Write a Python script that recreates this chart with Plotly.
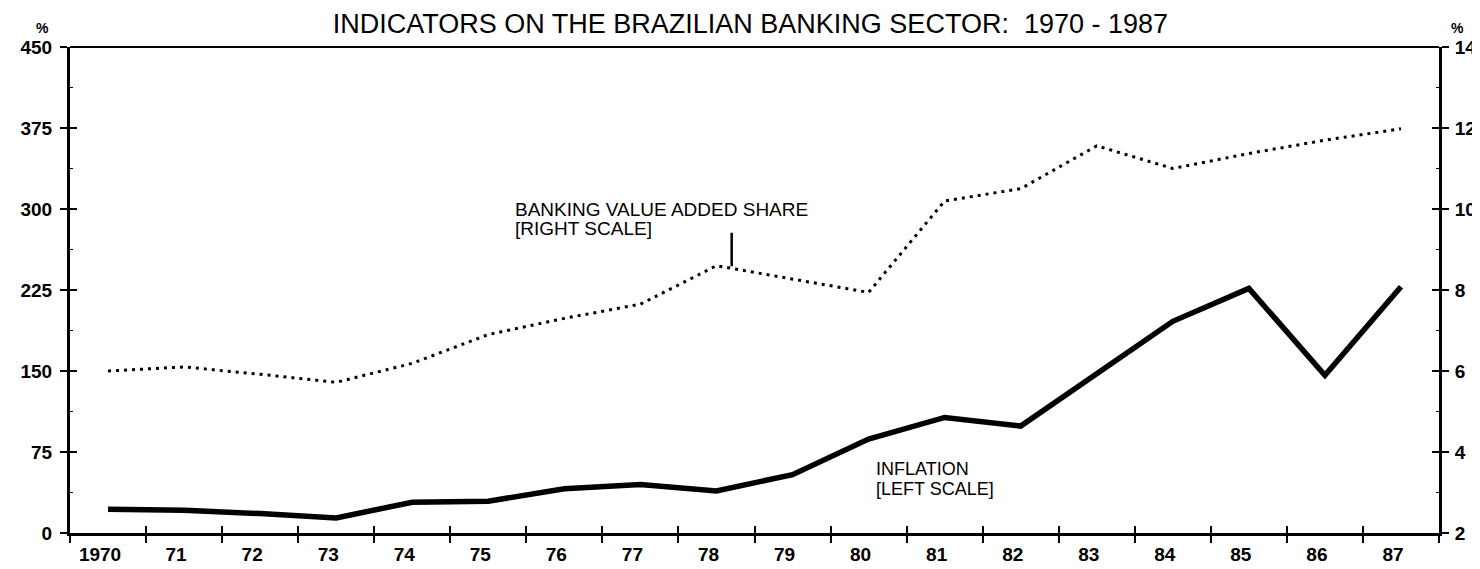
import plotly.graph_objects as go

# ---------------- data ----------------
years = [1970, 1971, 1972, 1973, 1974, 1975, 1976, 1977, 1978,
         1979, 1980, 1981, 1982, 1983, 1984, 1985, 1986, 1987]
year_labels = ["1970", "71", "72", "73", "74", "75", "76", "77", "78",
               "79", "80", "81", "82", "83", "84", "85", "86", "87"]
inflation = [22, 21, 18, 14, 28.5, 29.5, 41, 45, 39,
             54, 87, 107, 99, 147, 196, 226.5, 146, 228]          # left scale, %
banking_share = [6.0, 6.1, 5.92, 5.72, 6.19, 6.9, 7.3, 7.65, 8.6,
                 8.27, 7.94, 10.2, 10.5, 11.56, 11.0, 11.37, 11.7, 11.98]  # right scale, %
left_ticks = [0, 75, 150, 225, 300, 375, 450]
right_ticks = [2, 4, 6, 8, 10, 12, 14]
boundaries = [y + 0.5 for y in range(1969, 1988)]

FONT = "Liberation Sans"
XR = [1969.5, 1987.5]
YL = [0, 450]
YR = [2, 14]

fig = go.Figure()
fig.add_trace(go.Scatter(x=years, y=inflation, mode="lines",
                         line=dict(color="black", width=5.5),
                         xaxis="x", yaxis="y", showlegend=False, hoverinfo="skip"))
fig.add_trace(go.Scatter(x=years, y=banking_share, mode="lines",
                         line=dict(color="black", width=3, dash="3px,5px"),
                         xaxis="x", yaxis="y2", showlegend=False, hoverinfo="skip"))
# empty traces so the overlay tick axes are drawn
fig.add_trace(go.Scatter(x=[], y=[], xaxis="x2", yaxis="y3", showlegend=False))
fig.add_trace(go.Scatter(x=[], y=[], xaxis="x2", yaxis="y4", showlegend=False))

tickfont = dict(family=FONT, size=19, color="black", weight="bold")

fig.update_layout(
    width=1480, height=569,
    margin=dict(l=60, r=41, t=39, b=29),
    paper_bgcolor="white", plot_bgcolor="white",
    title=dict(text="INDICATORS ON THE BRAZILIAN BANKING SECTOR:  1970 - 1987",
               x=0.497, xref="paper", xanchor="center",
               y=0.972, yref="container", yanchor="middle",
               font=dict(family=FONT, size=27, color="black")),
    xaxis=dict(range=XR, tickmode="array", tickvals=years, ticktext=year_labels,
               ticks="", showline=True, linewidth=3, linecolor="black",
               showgrid=False, zeroline=False, tickfont=tickfont,
               ticklabelshift=-8, ticklabelstandoff=2,
               minor=dict(tickmode="array", tickvals=boundaries, ticks="outside",
                          ticklen=7, tickwidth=2, tickcolor="black")),
    xaxis2=dict(range=XR, overlaying="x", anchor="y", side="bottom",
                tickmode="array", tickvals=boundaries, ticks="inside",
                ticklen=7, tickwidth=2, tickcolor="black",
                showticklabels=False, showline=False, showgrid=False, zeroline=False),
    yaxis=dict(range=YL, tickmode="array", tickvals=left_ticks, ticks="outside",
               ticklen=7, tickwidth=2, tickcolor="black",
               showline=True, linewidth=3, linecolor="black",
               showgrid=False, zeroline=False, tickfont=tickfont,
               ticklabelstandoff=4,
               minor=dict(tickmode="linear", tick0=0, dtick=37.5, ticks="inside",
                          ticklen=3, tickwidth=1, tickcolor="black")),
    yaxis2=dict(range=YR, overlaying="y", side="right", anchor="x",
                tickmode="array", tickvals=right_ticks, ticks="outside",
                ticklen=7, tickwidth=2, tickcolor="black",
                showline=True, linewidth=3, linecolor="black",
                showgrid=False, zeroline=False, tickfont=tickfont,
                ticklabelstandoff=2,
                minor=dict(tickmode="linear", tick0=2, dtick=1, ticks="inside",
                           ticklen=3, tickwidth=1, tickcolor="black")),
    yaxis3=dict(range=YL, overlaying="y", side="left", anchor="x2",
                tickmode="array", tickvals=left_ticks, ticks="inside",
                ticklen=7, tickwidth=2, tickcolor="black",
                showticklabels=False, showline=False, showgrid=False, zeroline=False),
    yaxis4=dict(range=YR, overlaying="y", side="right", anchor="x2",
                tickmode="array", tickvals=right_ticks, ticks="inside",
                ticklen=7, tickwidth=2, tickcolor="black",
                showticklabels=False, showline=False, showgrid=False, zeroline=False),
)

# top frame line
fig.add_shape(type="line", xref="paper", yref="paper", x0=0, x1=1, y0=1, y1=1,
              line=dict(color="black", width=2))

# series labels (one annotation per text line to control the line spacing)
fig.add_annotation(x=1975.33, y=300, xref="x", yref="y", xanchor="left", yanchor="middle",
                   showarrow=False, text="BANKING VALUE ADDED SHARE",
                   font=dict(family=FONT, size=19, color="black"))
fig.add_annotation(x=1975.33, y=282, xref="x", yref="y", xanchor="left", yanchor="middle",
                   showarrow=False, text="[RIGHT SCALE]",
                   font=dict(family=FONT, size=19, color="black"))
fig.add_shape(type="line", xref="x", yref="y", x0=1978.2, x1=1978.2, y0=247, y1=278,
              line=dict(color="black", width=2.5))
fig.add_annotation(x=1980.07, y=59, xref="x", yref="y", xanchor="left", yanchor="middle",
                   showarrow=False, text="INFLATION",
                   font=dict(family=FONT, size=18, color="black"))
fig.add_annotation(x=1980.07, y=41, xref="x", yref="y", xanchor="left", yanchor="middle",
                   showarrow=False, text="[LEFT SCALE]",
                   font=dict(family=FONT, size=18, color="black"))

# "%" unit labels above both axes
fig.add_annotation(x=0, y=1, xref="paper", yref="paper", xshift=-36, yshift=29,
                   showarrow=False, text="%",
                   font=dict(family=FONT, size=14, color="black", weight="bold"))
fig.add_annotation(x=1, y=1, xref="paper", yref="paper", xshift=27, yshift=29,
                   showarrow=False, text="%",
                   font=dict(family=FONT, size=14, color="black", weight="bold"))

fig.write_html("out.html")
